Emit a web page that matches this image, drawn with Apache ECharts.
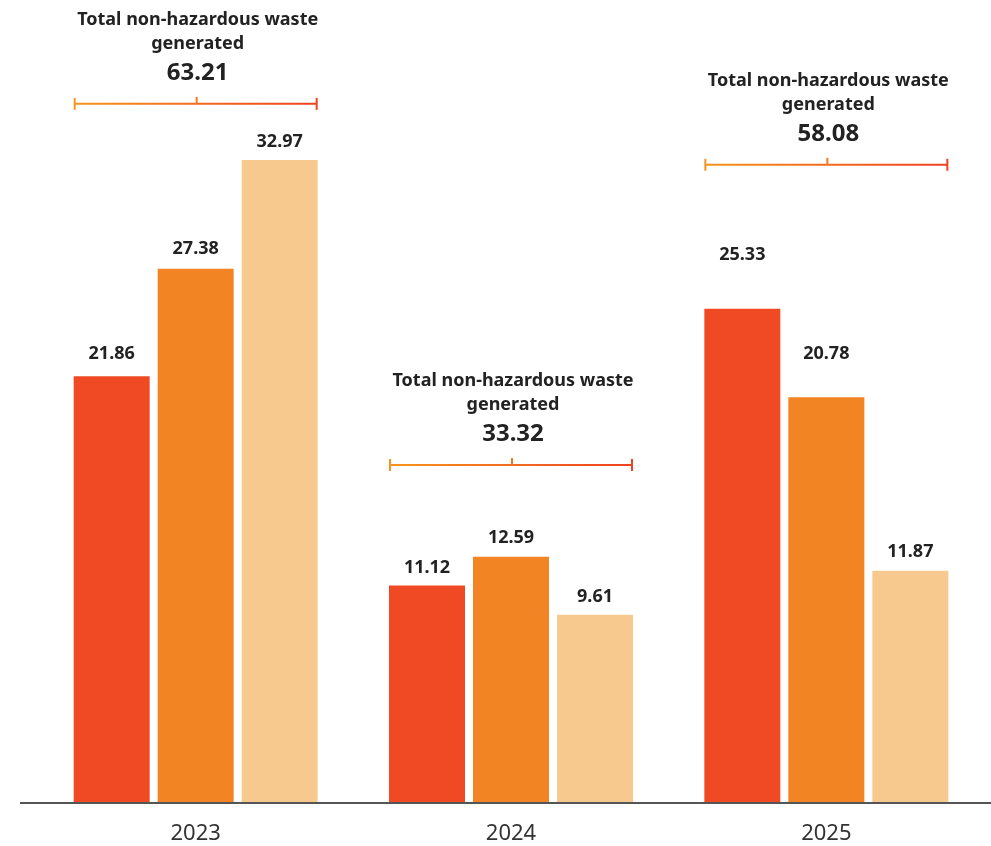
<!DOCTYPE html>
<html>
<head>
<meta charset="utf-8">
<script src="https://cdn.jsdelivr.net/npm/echarts@6/dist/echarts.min.js"></script>
<style>
  html, body { margin: 0; padding: 0; background: #ffffff; }
  #chart { width: 991px; height: 846px; }
</style>
</head>
<body>
<div id="chart"></div>
<script>
// ---- data ----
const years = ['2023', '2024', '2025'];
const streamA = [21.86, 11.12, 25.33];
const streamB = [27.38, 12.59, 20.78];
const streamC = [32.97, 9.61, 11.87];
const totals = [63.21, 33.32, 58.08];
const totalCaption = ['Total non-hazardous waste', 'generated'];

// ---- layout / style ----
const FONT = '"Noto Sans", Lato, sans-serif';
const colors = ['#EF4A24', '#F38423', '#F7C98F'];
const barW = 76;
const barGapPx = 8;
// height (in axis units) at which each total bracket sits
const bracketLevels = [35.85, 17.31, 32.72];
// extra lift of the value labels above each bar
const labelLift = [
  [13, 9, 45],
  [11, 10, 34],
  [9, 9, 10]
];

function barSeries(name, values, color, lifts) {
  return {
    name: name,
    type: 'bar',
    barWidth: barW,
    barGap: (barGapPx / barW * 100) + '%',
    itemStyle: { color: color },
    data: values.map((v, i) => ({
      value: v,
      label: { distance: lifts[i] }
    })),
    label: {
      show: true,
      position: 'top',
      color: '#222222',
      fontFamily: FONT,
      fontWeight: 'bold',
      fontSize: 18,
      formatter: p => p.value.toFixed(2)
    }
  };
}

const bracketData = years.map((y, i) => [i, bracketLevels[i], totals[i]]);

const chart = echarts.init(document.getElementById('chart'), null, { renderer: 'canvas' });

const option = {
  animation: false,
  backgroundColor: '#ffffff',
  grid: { left: 38, right: 7, top: 23, bottom: 44 },
  xAxis: {
    type: 'category',
    data: years,
    axisLine: { show: false },
    axisTick: { show: false },
    axisLabel: {
      color: '#333333',
      fontFamily: FONT,
      fontSize: 22,
      margin: 21
    }
  },
  yAxis: {
    type: 'value',
    min: 0,
    max: 40,
    show: false,
    splitLine: { show: false }
  },
  series: [
    barSeries('Stream A', streamA, colors[0], labelLift[0]),
    barSeries('Stream B', streamB, colors[1], labelLift[1]),
    barSeries('Stream C', streamC, colors[2], labelLift[2]),
    {
      name: 'Total',
      type: 'custom',
      clip: false,
      z: 10,
      encode: { x: 0, y: 1 },
      data: bracketData,
      renderItem: function (params, api) {
        const pt = api.coord([api.value(0), api.value(1)]);
        const cx = pt[0], cy = pt[1];
        const half = (3 * barW + 2 * barGapPx) / 2 - 1;
        const x0 = cx - half, x1 = cx + half;
        const gradGlobal = {
          type: 'linear', x: x0, y: 0, x2: x1, y2: 0, global: true,
          colorStops: [
            { offset: 0, color: '#F7941D' },
            { offset: 1, color: '#EF4123' }
          ]
        };
        const txt = (t, y, size) => ({
          type: 'text',
          x: cx + 2,
          y: y,
          style: {
            text: t,
            fill: '#222222',
            font: 'bold ' + size + 'px ' + FONT,
            align: 'center',
            verticalAlign: 'middle'
          }
        });
        return {
          type: 'group',
          children: [
            { type: 'line', shape: { x1: x0, y1: cy, x2: x1, y2: cy }, style: { stroke: gradGlobal, lineWidth: 2 } },
            { type: 'line', shape: { x1: x0, y1: cy - 6, x2: x0, y2: cy + 6 }, style: { stroke: '#F7941D', lineWidth: 2 } },
            { type: 'line', shape: { x1: x1, y1: cy - 6, x2: x1, y2: cy + 6 }, style: { stroke: '#EF4123', lineWidth: 2 } },
            { type: 'line', shape: { x1: cx + 1, y1: cy - 7, x2: cx + 1, y2: cy }, style: { stroke: '#F37A20', lineWidth: 2 } },
            txt(totalCaption[0], cy - 84, 18),
            txt(totalCaption[1], cy - 60, 18),
            txt(api.value(2).toFixed(2), cy - 31, 24)
          ]
        };
      }
    }
  ]
};

chart.setOption(option);

// full-width baseline at the zero of the value axis
const baseY = chart.convertToPixel({ yAxisIndex: 0 }, 0);
chart.setOption({
  graphic: [{
    type: 'line',
    z: 20,
    shape: { x1: 20, y1: baseY + 1, x2: 991, y2: baseY + 1 },
    style: { stroke: '#555555', lineWidth: 2 }
  }]
});
</script>
</body>
</html>
